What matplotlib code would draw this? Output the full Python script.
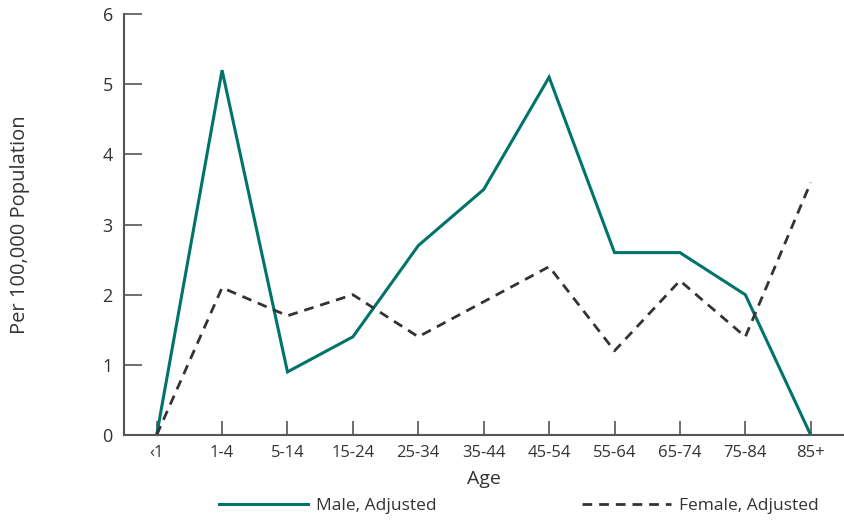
import matplotlib
matplotlib.use("Agg")
import matplotlib.pyplot as plt
from matplotlib.lines import Line2D

plt.rcParams['font.family'] = ['Open Sans', 'DejaVu Sans']

ages = ["‹1", "1-4", "5-14", "15-24", "25-34", "35-44", "45-54", "55-64", "65-74", "75-84", "85+"]
male = [0, 5.2, 0.9, 1.4, 2.7, 3.5, 5.1, 2.6, 2.6, 2.0, 0]
female = [0, 2.1, 1.7, 2.0, 1.4, 1.9, 2.4, 1.2, 2.2, 1.4, 3.6]
yticks = [0, 1, 2, 3, 4, 5, 6]

teal = "#00746b"
dark = "#333333"
axc = "#555555"

fig = plt.figure(figsize=(8.45, 5.21), dpi=100)
ax = fig.add_axes([0.1467, 0.165, 0.853, 0.808])
x = list(range(len(ages)))
ax.plot(x, male, color=teal, lw=2.2, solid_joinstyle='miter')
ax.plot(x, female, color=dark, lw=2.0, ls=(0, (3.5, 2.5)))

ax.set_xlim(-0.5, 10.52)
ax.set_ylim(0, 6)
ax.set_xticks(x)
ax.set_xticklabels(ages, fontsize=12, color=dark)
ax.set_yticks(yticks)
ax.set_yticklabels([str(v) for v in yticks], fontsize=13, color=dark)
ax.tick_params(axis='x', direction='in', length=10, width=1.2, color=axc, pad=7)
ax.tick_params(axis='y', direction='in', length=13, width=1.2, color=axc, pad=8)
for s in ['top', 'right']:
    ax.spines[s].set_visible(False)
for s in ['left', 'bottom']:
    ax.spines[s].set_color(axc)
    ax.spines[s].set_linewidth(1.5)
ax.set_xlabel("Age", fontsize=14, color=dark, labelpad=7)
ax.set_ylabel("Per 100,000 Population", fontsize=14.5, color=dark, labelpad=52)

handles = [Line2D([], [], color=teal, lw=2.2),
           Line2D([], [], color=dark, lw=2.0, ls=(0, (3.5, 2.5)))]
fig.legend(handles, ["Male, Adjusted", "Female, Adjusted"], loc='center',
           bbox_to_anchor=(0.614, 0.029), ncol=2, frameon=False, fontsize=12.5,
           handlelength=5.1, columnspacing=8.4, handletextpad=0.45,
           labelcolor=dark, borderpad=0, borderaxespad=0)
fig.savefig("out.png", dpi=100)
